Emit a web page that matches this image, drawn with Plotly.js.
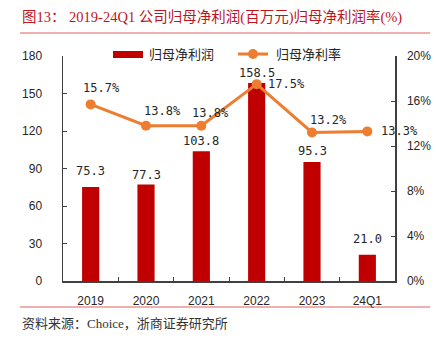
<!DOCTYPE html>
<html>
<head>
<meta charset="utf-8">
<script src="https://cdn.plot.ly/plotly-3.0.1.min.js"></script>
<style>html,body{margin:0;padding:0;background:#fff;}#chart{width:436px;height:351px;}</style>
</head>
<body>
<div id="chart"></div>
<script>
// ---- data ----
const categories = ['2019', '2020', '2021', '2022', '2023', '24Q1'];
const netProfit = [75.3, 77.3, 103.8, 158.5, 95.3, 21.0];      // 归母净利润 (百万元)
const netMargin = [15.7, 13.8, 13.8, 17.5, 13.2, 13.3];         // 归母净利率 (%)
const profitName = '归母净利润';
const marginName = '归母净利率';

// ---- label placement (styling only, pixels; positive = up / right) ----
const barLabelShift = [16, 9, 10, 10, 11, 16];
const pctLabelShiftX = [11, 16, 9, 30, 16, 32];
const pctLabelShiftY = [16, 15, 13, 0, 13, 0];

const barColor = '#C00000';
const lineColor = '#ED7D31';
const axisColor = '#404040';
const labelFont = {family: 'DejaVu Sans Mono, monospace', size: 12, color: '#262626'};
const tickFont = {family: 'Liberation Sans, Arial, sans-serif', size: 12, color: '#262626'};

// category positions on the x axis
const xPos = categories.map((c, i) => i);
const boundaries = categories.slice(1).map((c, i) => i + 0.5);

const traces = [
  {
    type: 'bar', name: profitName, x: xPos, y: netProfit, text: categories,
    marker: {color: barColor}, width: 0.31, yaxis: 'y', showlegend: false,
    hoverinfo: 'text+y', textposition: 'none'
  },
  {
    type: 'scatter', mode: 'lines+markers', name: marginName, x: xPos, y: netMargin, text: categories,
    yaxis: 'y2', line: {color: lineColor, width: 3}, marker: {color: lineColor, size: 10},
    showlegend: false, hoverinfo: 'text+y'
  }
];

const annotations = [];
xPos.forEach((xp, i) => {
  annotations.push({
    x: xp, y: netProfit[i], xref: 'x', yref: 'y', text: netProfit[i].toFixed(1),
    showarrow: false, xanchor: 'center', yanchor: 'middle', yshift: barLabelShift[i], font: labelFont
  });
  annotations.push({
    x: xp, y: netMargin[i], xref: 'x', yref: 'y2', text: netMargin[i].toFixed(1) + '%',
    showarrow: false, xanchor: 'center', yanchor: 'middle',
    xshift: pctLabelShiftX[i], yshift: pctLabelShiftY[i], font: labelFont
  });
});

// plot area in px: x 63..395, y 56..281
const PX = (px) => (px - 63) / 332;
const PY = (py) => (281 - py) / 225;

// custom legend text
const legendFont = {family: 'Noto Sans CJK SC, sans-serif', size: 13, color: '#262626'};
annotations.push({xref: 'paper', yref: 'paper', x: PX(147), y: PY(54), text: profitName,
  showarrow: false, xanchor: 'left', yanchor: 'middle', font: legendFont});
annotations.push({xref: 'paper', yref: 'paper', x: PX(274), y: PY(54), text: marginName,
  showarrow: false, xanchor: 'left', yanchor: 'middle', font: legendFont});
// source
annotations.push({xref: 'paper', yref: 'paper', x: PX(20), y: PY(323),
  text: '资料来源：Choice，浙商证券研究所', showarrow: false, xanchor: 'left', yanchor: 'middle',
  font: {family: 'Liberation Serif, Noto Sans CJK SC, serif', size: 13, color: '#333333'}});

const shapes = [
  {type: 'line', xref: 'paper', yref: 'paper', x0: PX(20), x1: PX(430), y0: PY(33), y1: PY(33),
   line: {color: '#E0605A', width: 1}},
  {type: 'line', xref: 'paper', yref: 'paper', x0: PX(20), x1: PX(430), y0: PY(307), y1: PY(307),
   line: {color: '#E0605A', width: 1}},
  {type: 'rect', xref: 'paper', yref: 'paper', x0: PX(113), x1: PX(143), y0: PY(58), y1: PY(51),
   fillcolor: barColor, line: {width: 0}},
  {type: 'line', xref: 'paper', yref: 'paper', x0: PX(238), x1: PX(268), y0: PY(54), y1: PY(54),
   line: {color: lineColor, width: 3}},
  {type: 'circle', xref: 'paper', yref: 'paper', x0: PX(248), x1: PX(258), y0: PY(59), y1: PY(49),
   fillcolor: lineColor, line: {width: 0}}
];

const layout = {
  width: 436, height: 351,
  margin: {l: 63, r: 41, t: 56, b: 70, pad: 0},
  paper_bgcolor: '#ffffff', plot_bgcolor: '#ffffff',
  showlegend: false,
  title: {
    text: '图13： 2019-24Q1 公司归母净利润(百万元)归母净利润率(%)',
    font: {family: 'Liberation Serif, Noto Sans CJK SC, serif', size: 14.5, color: '#C0141C'},
    x: 22 / 436, xanchor: 'left', xref: 'container',
    y: 1 - 17 / 351, yanchor: 'middle', yref: 'container'
  },
  xaxis: {
    type: 'linear', range: [-0.5, categories.length - 0.5],
    tickmode: 'array', tickvals: xPos, ticktext: categories,
    showgrid: false, zeroline: false,
    showline: true, linecolor: axisColor, linewidth: 1.5,
    ticks: '', tickfont: tickFont, ticklabelstandoff: 8, fixedrange: true
  },
  xaxis2: {
    overlaying: 'x', side: 'bottom', anchor: 'y', type: 'linear', range: [-0.5, categories.length - 0.5],
    tickmode: 'array', tickvals: boundaries, showticklabels: false,
    showgrid: false, zeroline: false, showline: false,
    ticks: 'inside', ticklen: 4, tickcolor: axisColor, tickwidth: 1, fixedrange: true
  },
  yaxis: {
    range: [0, 180], dtick: 30, tick0: 0, showgrid: false, zeroline: false,
    showline: true, linecolor: axisColor, linewidth: 1.5,
    ticks: 'inside', ticklen: 4, tickcolor: axisColor, tickwidth: 1,
    tickfont: tickFont, ticklabelstandoff: 17, fixedrange: true
  },
  yaxis2: {
    overlaying: 'y', side: 'right', range: [0, 20], dtick: 4, tick0: 0, ticksuffix: '%',
    showgrid: false, zeroline: false,
    showline: true, linecolor: axisColor, linewidth: 1.5,
    ticks: 'inside', ticklen: 4, tickcolor: axisColor, tickwidth: 1,
    tickfont: tickFont, ticklabelstandoff: 8, fixedrange: true
  },
  annotations: annotations,
  shapes: shapes
};

// invisible trace so the boundary-tick axis is drawn
traces.push({type: 'scatter', x: [], y: [], xaxis: 'x2', yaxis: 'y', showlegend: false, hoverinfo: 'skip'});

Plotly.newPlot('chart', traces, layout, {displayModeBar: false, staticPlot: true});
</script>
</body>
</html>
